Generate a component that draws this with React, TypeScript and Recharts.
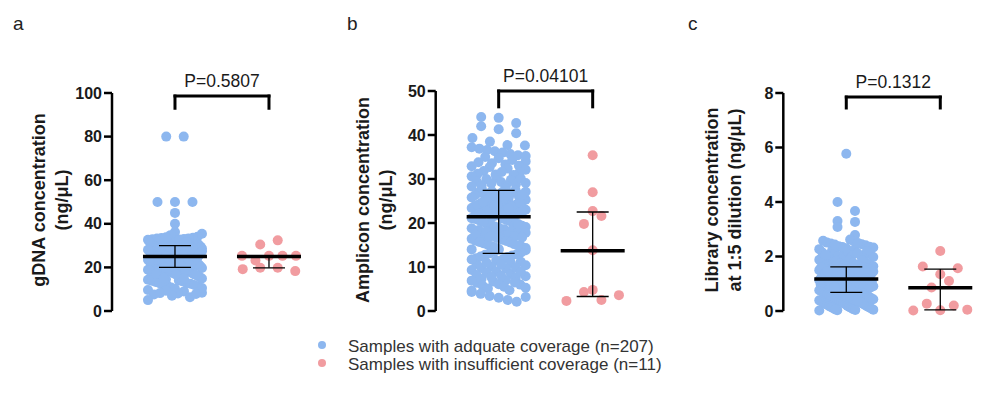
import { ScatterChart, Scatter, XAxis, YAxis, ReferenceLine } from "recharts";

const FONT = '"Liberation Sans", Arial, Helvetica, sans-serif';

const GROUP_LABELS = [
  "Samples with adquate coverage (n=207)",
  "Samples with insufficient coverage (n=11)",
];
const GROUP_COLORS = ["#8db7ef", "#f19ca0"];

// a: gDNA concentration (ng/µL)
const GDNA_ADEQUATE = [
  80, 80, 50, 50, 50, 45, 40, 36.2, 35.4, 34.8,
  34.1, 33.6, 33.5, 33.2, 33.0, 32.9, 32.7, 32.6, 32.4, 32.1,
  31.9, 31.8, 31.5, 31.4, 31.2, 31.0, 30.9, 30.8, 30.6, 30.5,
  30.4, 30.3, 30.1, 30.0, 33.8, 32.3, 31.6, 31.1, 30.7, 30.2,
  33.3, 32.8, 32.0, 31.3, 30.0, 29.9, 29.7, 29.6, 29.4, 29.1,
  29.0, 28.8, 28.7, 28.5, 28.3, 28.2, 28.0, 27.9, 27.6, 27.5,
  27.3, 27.1, 27.0, 26.8, 26.6, 26.5, 26.3, 26.1, 26.0, 25.8,
  25.7, 25.5, 25.4, 25.2, 25.1, 29.3, 28.9, 28.4, 27.8, 27.2,
  26.9, 26.4, 25.9, 25.6, 25.3, 29.8, 28.6, 27.4, 26.2, 25.0,
  24.9, 24.7, 24.6, 24.4, 24.2, 24.1, 23.9, 23.8, 23.5, 23.3,
  23.2, 23.0, 22.8, 22.7, 22.5, 22.3, 22.1, 22.0, 21.8, 21.7,
  21.5, 21.3, 21.1, 21.0, 20.8, 20.6, 20.5, 20.3, 20.1, 20.0,
  24.8, 24.3, 23.7, 23.1, 22.6, 21.9, 21.2, 20.7, 24.5, 22.4,
  19.8, 19.6, 19.3, 19.1, 18.9, 18.6, 18.4, 18.2, 17.9, 17.7,
  17.4, 17.2, 16.9, 16.6, 16.4, 16.1, 15.8, 15.5, 15.2, 14.9,
  14.6, 14.3, 14.0, 13.6, 13.3, 12.9, 12.5, 12.1, 11.7, 11.3,
  10.8, 10.2, 9.6, 9.0, 8.4, 8.0, 7.6, 7.0, 6.3, 5.0,
  19.7, 19.4, 18.7, 18.0, 17.5, 16.8, 16.2, 15.6, 14.8, 13.9,
  12.7, 11.9, 10.5, 9.3, 8.2, 7.8, 19.9, 19.0, 18.5, 17.0,
  23.6, 22.9, 21.4, 20.4, 24.0, 26.7, 28.1, 31.7, 22.2, 16.5,
  27.7, 21.6, 25.0, 23.4, 26.0, 20.9, 15.0,
];
const GDNA_LOW = [30.5, 32.4, 25.3, 23.2, 25.3, 25.3, 25.3, 19.2, 19.8, 19.8, 18.3];
const GDNA_MEDIAN = [25, 25];
const GDNA_Q1 = [20, 19.8];
const GDNA_Q3 = [30, 25.3];

// b: Amplicon concentration (ng/µL)
const AMPLICON_ADEQUATE = [
  44.1, 43.9, 42.7, 42.0, 41.3, 40.4, 39.3, 38.5, 37.7, 37.6,
  37.2, 36.9, 36.6, 36.3, 36.0, 35.7, 35.4, 35.0, 34.7, 34.3,
  34.0, 33.6, 33.3, 33.0, 32.7, 32.4, 32.1, 31.8, 31.5, 31.2,
  30.9, 30.6, 30.3, 30.0, 29.8, 29.5, 29.3, 29.0, 28.8, 28.5,
  28.3, 28.0, 27.8, 27.5, 33.8, 32.9, 31.0, 30.1, 29.1, 28.6,
  35.2, 31.6,
  27.2, 27.0, 26.9, 26.7, 26.4, 26.3, 26.1, 25.8, 25.6, 25.5,
  25.2, 25.0, 24.9, 24.6, 24.4, 24.3, 24.0, 23.8, 23.7, 23.4,
  23.2, 23.0, 22.9, 22.6, 22.5, 22.2, 22.0, 21.9, 21.7, 21.5,
  21.4, 26.8, 26.0, 25.3, 24.7, 24.1, 23.5, 22.8, 22.1, 21.6,
  27.1, 26.5, 25.9, 25.1, 24.2, 23.3, 22.4, 21.8, 26.2, 24.8,
  23.9, 22.7,
  21.3, 21.1, 20.9, 20.6, 20.4, 20.1, 19.9, 19.6, 19.4, 19.1,
  18.8, 18.6, 18.3, 18.0, 17.8, 17.5, 17.2, 17.0, 16.7, 16.4,
  16.2, 15.9, 15.6, 15.4, 15.1, 14.8, 14.6, 14.3, 14.0, 13.8,
  13.5, 13.3, 20.7, 19.8, 18.9, 17.9, 17.1, 16.0, 15.2, 14.1,
  20.2, 19.2, 18.4, 17.4, 16.6, 15.7, 14.9, 13.9, 21.0, 18.1,
  16.9, 14.5,
  13.1, 12.8, 12.6, 12.3, 12.0, 11.8, 11.5, 11.2, 10.9, 10.7,
  10.4, 10.1, 9.8, 9.6, 9.3, 9.0, 8.7, 8.4, 8.2, 7.9,
  7.6, 7.3, 7.0, 6.7, 6.4, 6.1, 5.8, 5.5, 5.1, 4.7,
  4.3, 3.9, 3.4, 3.0, 2.5, 2.1, 12.4, 11.0, 9.9, 8.9,
  7.7, 6.9, 6.0, 5.3, 4.6, 12.9, 10.6, 8.0, 6.5, 3.2,
  11.7,
];
const AMPLICON_LOW = [35.4, 27.0, 22.7, 19.8, 21.6, 13.8, 4.8, 2.3, 4.3, 2.5, 3.6];
const AMPLICON_MEDIAN = [21.4, 13.7];
const AMPLICON_Q1 = [13.1, 3.3];
const AMPLICON_Q3 = [27.4, 22.5];

// c: Library concentration at 1:5 dilution (ng/µL)
const LIBRARY_ADEQUATE = [
  5.77, 4.0, 3.67, 3.3, 3.27, 3.08, 2.79, 2.62, 2.58, 2.55,
  2.51, 2.48, 2.45, 2.41, 2.38, 2.36, 2.33, 2.3, 2.27, 2.24,
  2.21, 2.18, 2.15, 2.12, 2.1, 2.07, 2.04, 2.01, 1.98, 1.96,
  1.93, 1.9, 1.88, 1.85, 1.82, 1.8, 1.77, 1.75, 1.72, 1.7,
  1.68, 1.66, 2.5, 2.35, 2.2, 2.05, 1.92, 1.78, 2.44, 2.13,
  1.86, 1.69,
  1.64, 1.63, 1.62, 1.6, 1.59, 1.58, 1.56, 1.55, 1.54, 1.52,
  1.51, 1.5, 1.48, 1.47, 1.46, 1.44, 1.43, 1.42, 1.4, 1.39,
  1.38, 1.36, 1.35, 1.34, 1.32, 1.31, 1.3, 1.28, 1.27, 1.26,
  1.24, 1.23, 1.22, 1.21, 1.2, 1.61, 1.53, 1.45, 1.37, 1.29,
  1.57, 1.49, 1.41, 1.33, 1.25, 1.6, 1.4, 1.3, 1.5, 1.35,
  1.45, 1.55,
  1.19, 1.18, 1.16, 1.15, 1.14, 1.12, 1.1, 1.09, 1.08, 1.06,
  1.05, 1.03, 1.02, 1.0, 0.99, 0.97, 0.96, 0.94, 0.93, 0.92,
  0.9, 0.89, 0.87, 0.86, 0.85, 0.83, 0.82, 0.8, 0.79, 0.78,
  0.76, 0.75, 0.74, 0.72, 0.71, 1.17, 1.11, 1.04, 0.98, 0.91,
  0.84, 0.77, 1.13, 1.07, 1.01, 0.95, 0.88, 0.81, 0.73, 1.0,
  0.9, 0.8,
  0.69, 0.67, 0.65, 0.63, 0.61, 0.59, 0.57, 0.55, 0.53, 0.51,
  0.49, 0.47, 0.45, 0.43, 0.41, 0.39, 0.37, 0.35, 0.33, 0.31,
  0.29, 0.27, 0.25, 0.23, 0.21, 0.19, 0.17, 0.15, 0.13, 0.11,
  0.09, 0.07, 0.05, 0.03, 0.02, 0.66, 0.58, 0.5, 0.42, 0.34,
  0.26, 0.18, 0.1, 0.04, 0.62, 0.46, 0.3, 0.14, 0.06, 0.54,
  0.38,
];
const LIBRARY_LOW = [2.2, 1.63, 1.35, 1.57, 0.86, 1.1, 0.02, 0.27, 0.03, 0.2, 0.05];
const LIBRARY_MEDIAN = [1.17, 0.85];
const LIBRARY_Q1 = [0.68, 0.04];
const LIBRARY_Q3 = [1.62, 1.54];

const P_VALUES = ["P=0.5807", "P=0.04101", "P=0.1312"];
const Y_TITLES = [
  ["gDNA concentration", "(ng/μL)"],
  ["Amplicon concentration", "(ng/μL)"],
  ["Library concentration", "at 1:5 dilution (ng/μL)"],
];
const Y_TICKS = [
  [0, 20, 40, 60, 80, 100],
  [0, 10, 20, 30, 40, 50],
  [0, 2, 4, 6, 8],
];
const PANEL_LETTERS = ["a", "b", "c"];

// layout
const X_DOMAIN: [number, number] = [0, 2.1];
const GROUP_X = [0.67, 1.67];
const PX_PER_X = 94;
const CHART_H = 330;
const PLOT_BOTTOM = 311;
const Y_AXIS_W = 60;
const DOT_R = 5;
const BIN_PX = 10;
const SWARM_PX = 54;
const STEP_PX = 17.5;

const PANELS = [
  {
    left: 0, width: 330, axisX: 112, top: 93, titleX: 45, letterX: 13,
    series: [GDNA_ADEQUATE, GDNA_LOW], median: GDNA_MEDIAN, q1: GDNA_Q1, q3: GDNA_Q3,
    bracket: [98.6, 93],
  },
  {
    left: 320, width: 330, axisX: 435.7, top: 91, titleX: 49, letterX: 347,
    series: [AMPLICON_ADEQUATE, AMPLICON_LOW], median: AMPLICON_MEDIAN, q1: AMPLICON_Q1, q3: AMPLICON_Q3,
    bracket: [50, 46.4],
  },
  {
    left: 660, width: 321, axisX: 783.3, top: 93, titleX: 58, letterX: 688,
    series: [LIBRARY_ADEQUATE, LIBRARY_LOW], median: LIBRARY_MEDIAN, q1: LIBRARY_Q1, q3: LIBRARY_Q3,
    bracket: [7.85, 7.45],
  },
];

const gcd = (a: number, b: number): number => (b === 0 ? a : gcd(b, a % b));

// GraphPad-like scatter: bin by y, spread each bin horizontally
function swarm(values: number[], gx: number, yPerPx: number) {
  const order = values.map((_, i) => i).sort((a, b) => values[a] - values[b]);
  const bins: number[][] = [];
  let start = -Infinity;
  for (const i of order) {
    if (values[i] - start >= BIN_PX * yPerPx) {
      bins.push([]);
      start = values[i];
    }
    bins[bins.length - 1].push(i);
  }
  const pts = values.map((v) => ({ x: gx, y: v }));
  for (const bin of bins) {
    const n = bin.length;
    const step = n > 1 ? Math.min(STEP_PX, SWARM_PX / (n - 1)) : 0;
    let slots = bin.slice().sort((a, b) => a - b);
    if (n > 8) {
      // mix values across the row so a dense bin reads as a solid block
      let m = 7;
      while (gcd(m, n) !== 1) m++;
      slots = new Array(n);
      bin.forEach((i, k) => {
        slots[(k * m) % n] = i;
      });
    }
    slots.forEach((i, k) => {
      pts[i].x = gx + ((k - (n - 1) / 2) * step) / PX_PER_X;
    });
  }
  return pts;
}

const medianShape = (p: any) => (
  <line x1={p.cx - 32} x2={p.cx + 32} y1={p.cy} y2={p.cy} stroke="#000" strokeWidth={3.5} />
);
const capShape = (p: any) => (
  <line x1={p.cx - 16} x2={p.cx + 16} y1={p.cy} y2={p.cy} stroke="#000" strokeWidth={1.3} />
);

function Panel({ idx }: { idx: number }) {
  const cfg = PANELS[idx];
  const ticks = Y_TICKS[idx];
  const yMax = ticks[ticks.length - 1];
  const yPerPx = yMax / (PLOT_BOTTOM - cfg.top);
  const plotW = (X_DOMAIN[1] - X_DOMAIN[0]) * PX_PER_X;
  const axisRel = cfg.axisX - cfg.left;
  const margin = {
    top: cfg.top,
    bottom: CHART_H - PLOT_BOTTOM,
    left: axisRel - Y_AXIS_W,
    right: cfg.width - axisRel - plotW,
  };
  const groups = cfg.series.map((vals, g) => swarm(vals, GROUP_X[g], yPerPx));
  const medians = GROUP_X.map((x, g) => ({ x, y: cfg.median[g] }));
  const whiskers = GROUP_X.map((x, g) => [
    { x, y: cfg.q1[g] },
    { x, y: cfg.q3[g] },
  ]);
  const [bTop, bLeg] = cfg.bracket;
  const lines = Y_TITLES[idx];
  const title = () => (
    <text
      x={cfg.titleX}
      y={200}
      transform={`rotate(-90, ${cfg.titleX}, 200)`}
      textAnchor="middle"
      fontFamily={FONT}
      fontWeight={700}
      fontSize={18}
      fill="#1a1a1a"
    >
      {lines.map((l, i) => (
        <tspan key={l} x={cfg.titleX} dy={i === 0 ? 0 : 22.5}>
          {l}
        </tspan>
      ))}
    </text>
  );
  const bracketLine = { stroke: "#000", strokeWidth: 3, strokeLinecap: "square" as const, ifOverflow: "visible" as const };

  return (
    <div style={{ position: "absolute", left: cfg.left, top: 0 }}>
      <ScatterChart width={cfg.width} height={CHART_H} margin={margin}>
        <XAxis type="number" dataKey="x" domain={X_DOMAIN} hide />
        <YAxis
          type="number"
          dataKey="y"
          domain={[0, yMax]}
          ticks={ticks}
          interval={0}
          width={Y_AXIS_W}
          tickSize={8}
          axisLine={{ stroke: "#000", strokeWidth: 2.5 }}
          tickLine={{ stroke: "#000", strokeWidth: 2.5 }}
          tick={{ fill: "#1a1a1a", fontSize: 16, fontWeight: 700, fontFamily: FONT }}
          label={{ content: title }}
        />
        {groups.map((pts, g) => (
          <Scatter
            key={g}
            data={pts}
            isAnimationActive={false}
            shape={(p: any) => <circle cx={p.cx} cy={p.cy} r={DOT_R} fill={GROUP_COLORS[g]} />}
          />
        ))}
        {whiskers.map((w, g) => (
          <Scatter
            key={`w${g}`}
            data={w}
            isAnimationActive={false}
            line={{ stroke: "#000", strokeWidth: 1.3 }}
            shape={capShape}
          />
        ))}
        <Scatter data={medians} isAnimationActive={false} shape={medianShape} />
        <ReferenceLine
          {...bracketLine}
          segment={[{ x: GROUP_X[0], y: bTop }, { x: GROUP_X[1], y: bTop }]}
          label={{
            value: P_VALUES[idx],
            position: "top",
            offset: 9,
            fill: "#1a1a1a",
            fontSize: 17.5,
            fontFamily: FONT,
          }}
        />
        <ReferenceLine {...bracketLine} segment={[{ x: GROUP_X[0], y: bTop }, { x: GROUP_X[0], y: bLeg }]} />
        <ReferenceLine {...bracketLine} segment={[{ x: GROUP_X[1], y: bTop }, { x: GROUP_X[1], y: bLeg }]} />
      </ScatterChart>
    </div>
  );
}

export default function App() {
  return (
    <div
      style={{
        position: "absolute",
        left: 0,
        top: 0,
        width: 981,
        height: 393,
        overflow: "hidden",
        background: "#fff",
        fontFamily: FONT,
      }}
    >
      {PANELS.map((_, i) => (
        <Panel key={i} idx={i} />
      ))}
      <svg width={981} height={393} style={{ position: "absolute", left: 0, top: 0, pointerEvents: "none" }}>
        {PANELS.map((p, i) => (
          <text key={i} x={p.letterX} y={30} fontFamily={FONT} fontSize={19} fill="#222">
            {PANEL_LETTERS[i]}
          </text>
        ))}
        {GROUP_LABELS.map((label, i) => (
          <g key={label}>
            <circle cx={322} cy={345 + i * 18} r={4} fill={GROUP_COLORS[i]} />
            <text x={348} y={352 + i * 17.5} fontFamily={FONT} fontSize={17} fill="#333">
              {label}
            </text>
          </g>
        ))}
      </svg>
    </div>
  );
}
